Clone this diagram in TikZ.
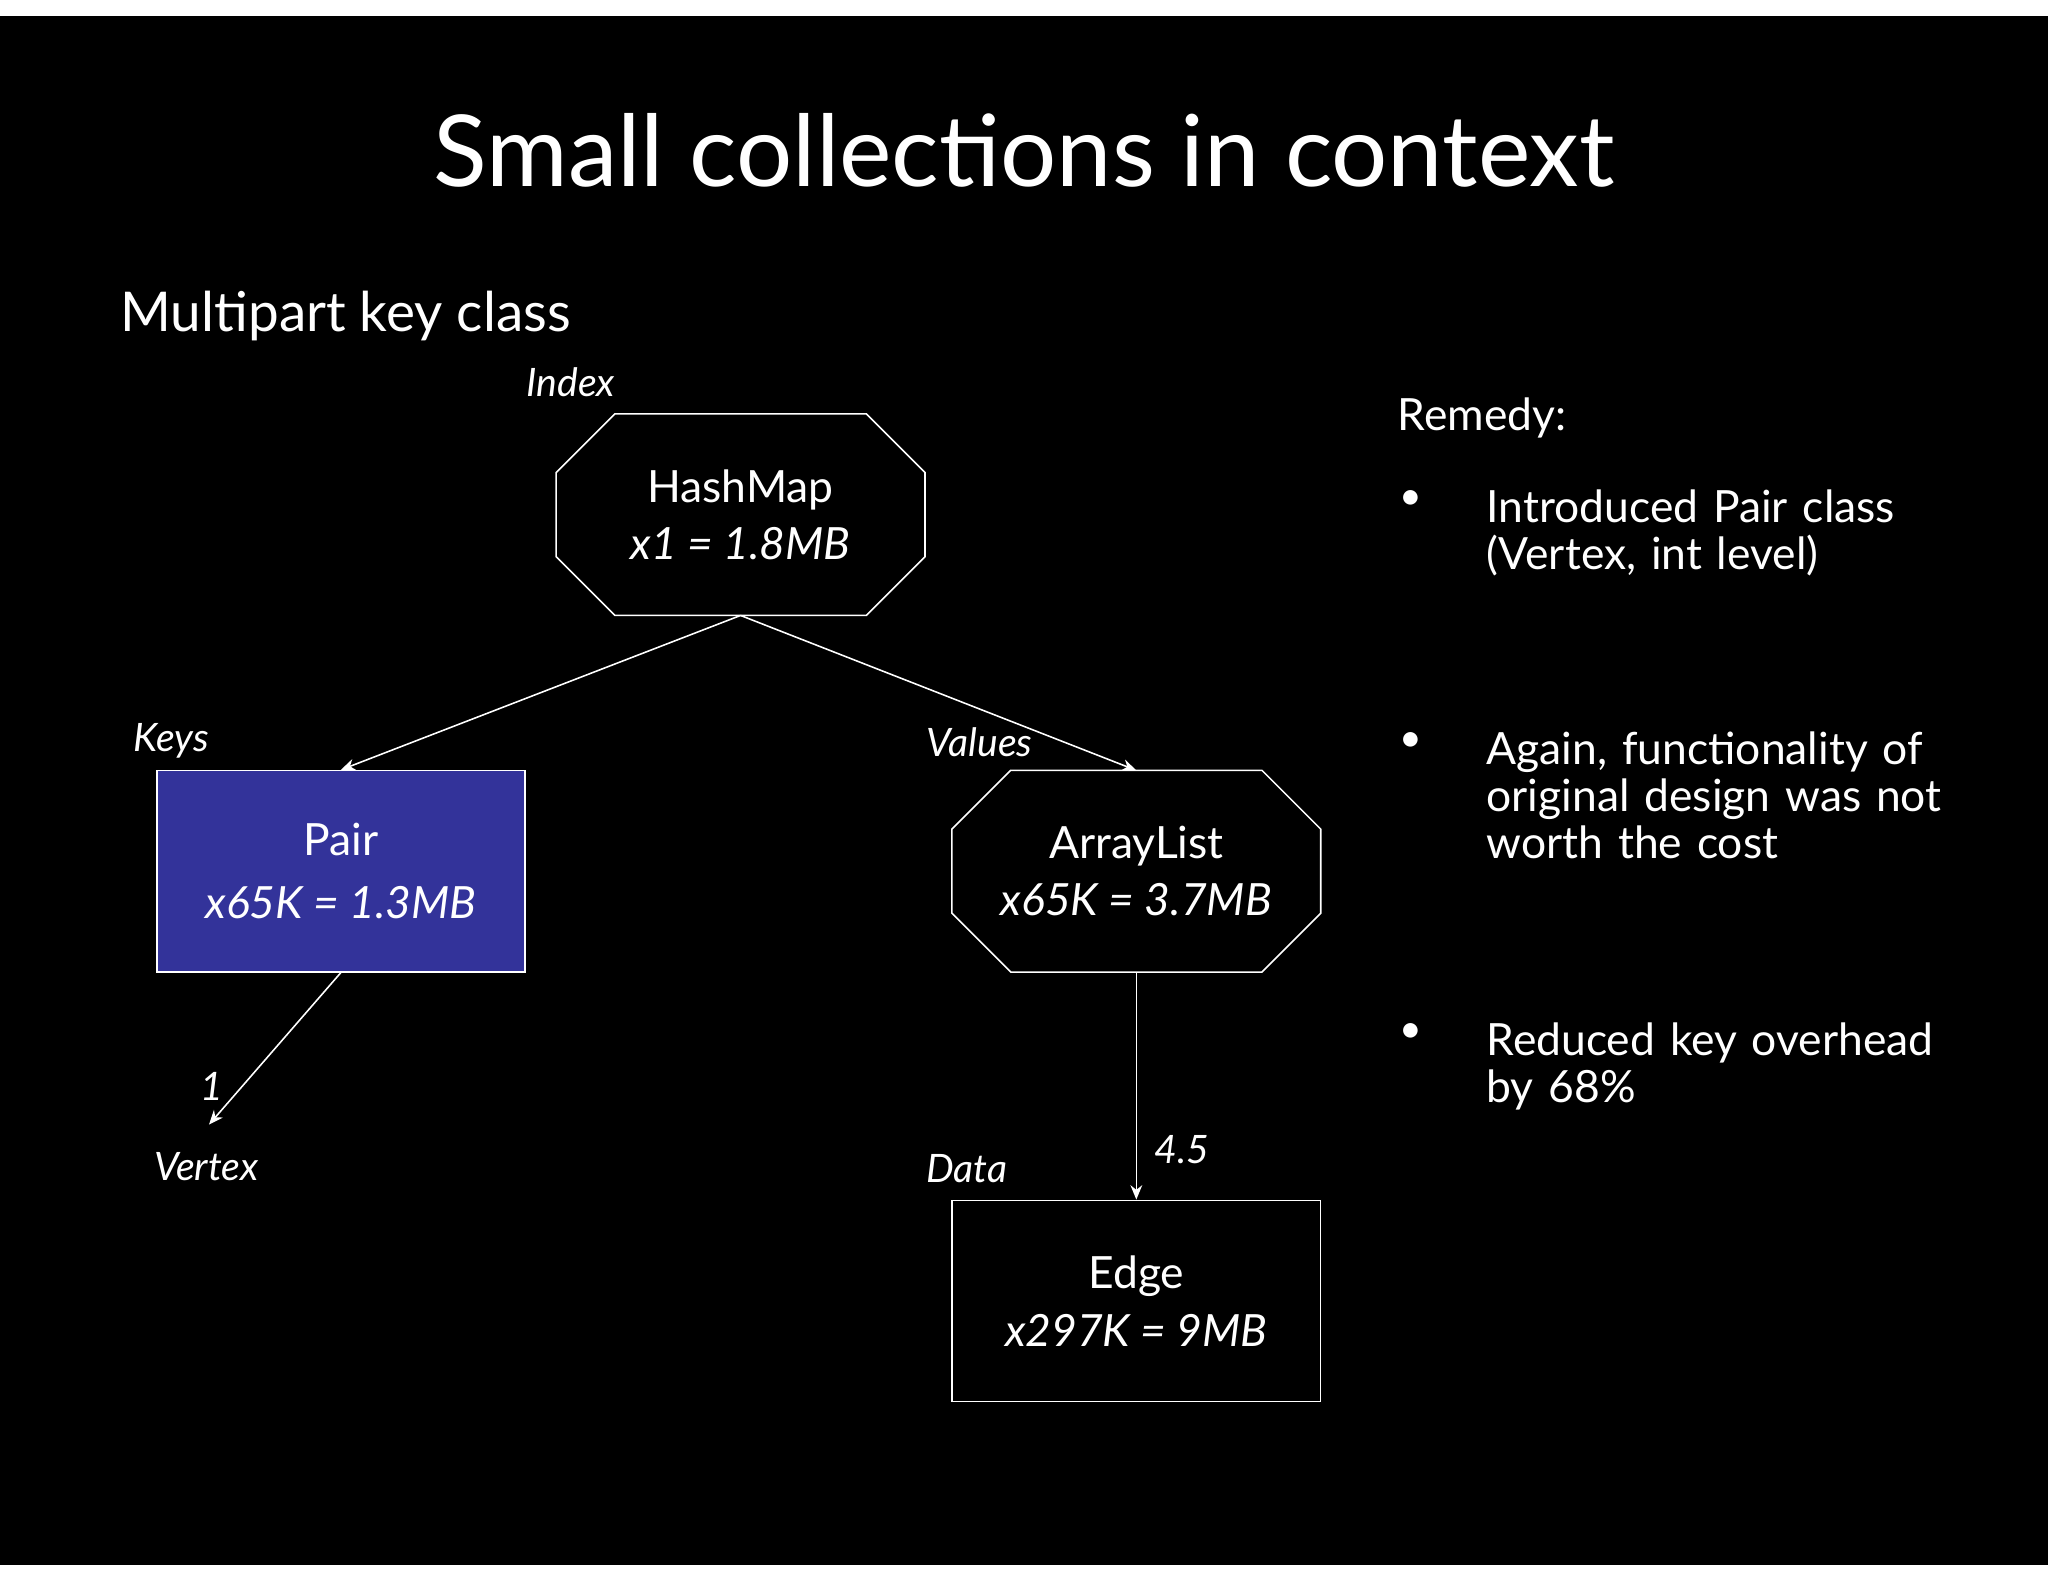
\documentclass[tikz,border=0pt]{standalone}
\usepackage{fontspec}
\setmainfont{Lato}
\usetikzlibrary{arrows.meta}
\definecolor{pairblue}{HTML}{33339A}
\tikzset{
  box/.style={minimum width=282pt,minimum height=154pt,inner sep=0pt,align=center,font=\fontsize{34}{42}\selectfont,text=white},
  lbl/.style={text=white,font=\fontsize{30}{36}\selectfont\itshape,inner sep=0pt},
  conn/.style={white,line width=1.2pt,-{Stealth[length=11pt,width=9pt]}},
  oct/.style={white,line width=1.2pt},
  bul/.style={text=white,font=\fontsize{34}{36}\selectfont,align=left,anchor=north west,inner sep=0pt,text width=420pt}
}
\begin{document}
\begin{tikzpicture}[x=1pt,y=-1pt]
\fill[white] (0,0) rectangle (1568,1211);
\fill[black] (0,12) rectangle (1568,1198);
\useasboundingbox (0,0) rectangle (1568,1211);
\node[text=white,font=\fontsize{76}{80}\selectfont] (title) at (784,115) {Small collections in context};
\node[text=white,font=\fontsize{42}{46}\selectfont,anchor=west,inner sep=0pt] (sub) at (92,242) {Multipart key class};
\node[lbl] (idx) at (437,293) {Index};
\node[box] (hm) at (567,394) {HashMap\\[2pt]{\itshape x1 = 1.8MB}};
\draw[oct] ([xshift=45pt]hm.north west) -- ([xshift=-45pt]hm.north east) -- ([yshift=-45pt]hm.north east) -- ([yshift=45pt]hm.south east) -- ([xshift=-45pt]hm.south east) -- ([xshift=45pt]hm.south west) -- ([yshift=45pt]hm.south west) -- ([yshift=-45pt]hm.north west) -- cycle;
\node[lbl] (keys) at (131,567) {Keys};
\node[box,fill=pairblue,draw=white,line width=1.2pt] (pair) at (261,667) {Pair\\[6pt]{\itshape x65K = 1.3MB}};
\node[lbl] (vals) at (750,568) {Values};
\node[box] (al) at (870,667) {ArrayList\\[2pt]{\itshape x65K = 3.7MB}};
\draw[oct] ([xshift=45pt]al.north west) -- ([xshift=-45pt]al.north east) -- ([yshift=-45pt]al.north east) -- ([yshift=45pt]al.south east) -- ([xshift=-45pt]al.south east) -- ([xshift=45pt]al.south west) -- ([yshift=45pt]al.south west) -- ([yshift=-45pt]al.north west) -- cycle;
\node[lbl] (vtx) at (158,893) {Vertex};
\coordinate (vtop) at (160,861);
\node[lbl] (one) at (162,832) {1};
\node[lbl] (data) at (740,895) {Data};
\node[box,draw=white,line width=1.2pt] (edge) at (870,996) {Edge\\[2pt]{\itshape x297K = 9MB}};
\node[lbl] (n45) at (905,880) {4.5};
\draw[conn] (hm.south) -- (pair.north);
\draw[conn] (hm.south) -- (al.north);
\draw[conn] (pair.south) -- (vtop);
\draw[conn] (al.south) -- (edge.north);
\node[text=white,font=\fontsize{34}{36}\selectfont,anchor=west,inner sep=0pt] (rem) at (1070,320) {Remedy:};
\foreach \y/\n in {383/b1,568/b2,791/b3}{\node[text=white,font=\fontsize{30}{30}\selectfont,inner sep=0pt] (\n) at (1080,\y) {\textbullet};}
\node[bul] (t1) at (1138,375) {Introduced Pair class\\(Vertex, int level)};
\node[bul] (t2) at (1138,560) {Again, functionality of\\original design was not\\worth the cost};
\node[bul] (t3) at (1138,783) {Reduced key overhead\\by 68\%};
\end{tikzpicture}
\end{document}
